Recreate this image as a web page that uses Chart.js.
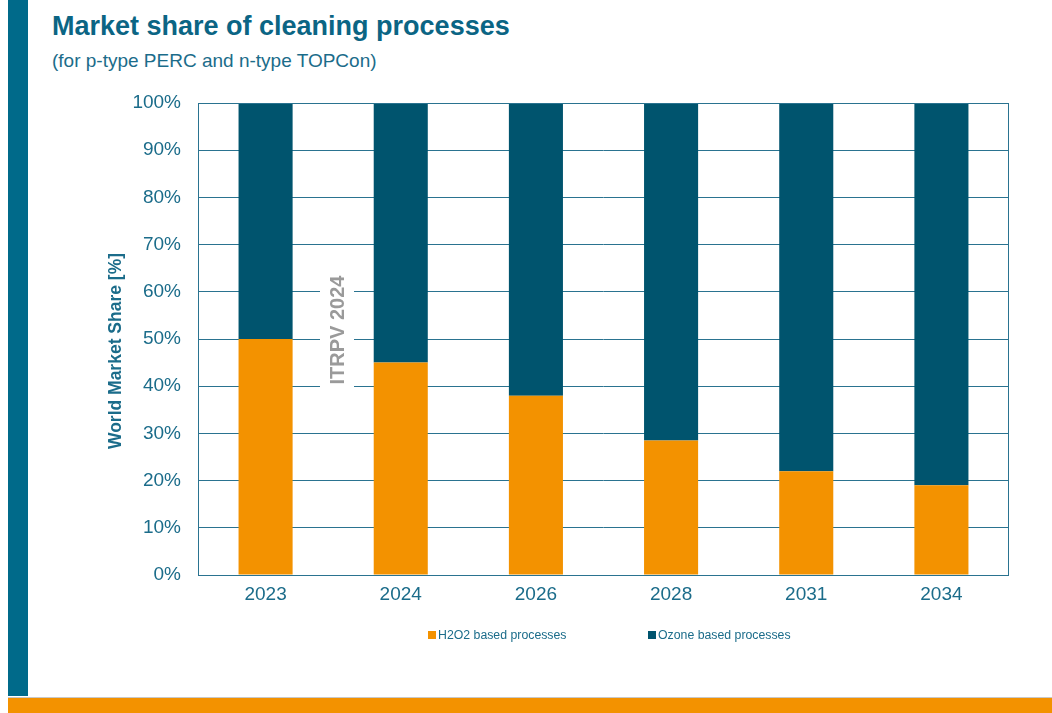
<!DOCTYPE html>
<html>
<head>
<meta charset="utf-8">
<script src="https://cdn.jsdelivr.net/npm/chart.js@4.4.1/dist/chart.umd.min.js"></script>
<style>
  html, body { margin: 0; padding: 0; background: #fff; }
  body { width: 1052px; height: 713px; position: relative; overflow: hidden; font-family: "Liberation Sans", Arial, sans-serif; }
  .side { position: absolute; left: 8px; top: 0; width: 20px; height: 696px; background: #006a8a; }
  .foot { position: absolute; left: 8px; top: 697px; width: 1044px; height: 16px; background: #f39200; border-top: 1px solid #c8c8c8; }
  .title { position: absolute; left: 52px; top: 11px; font-size: 27px; font-weight: bold; color: #0b6584; white-space: nowrap; }
  .sub { position: absolute; left: 52px; top: 50px; font-size: 19px; color: #1b6c8a; white-space: nowrap; }
  #chart { position: absolute; left: 0; top: 0; }
</style>
</head>
<body>
<div class="side"></div>
<div class="foot"></div>
<div class="title">Market share of cleaning processes</div>
<div class="sub">(for p-type PERC and n-type TOPCon)</div>
<canvas id="chart" width="1052" height="713"></canvas>
<script>
const years = ["2023", "2024", "2026", "2028", "2031", "2034"];
const h2o2Share = [50, 45, 38, 28.5, 22, 19];
const ozoneShare = [50, 55, 62, 71.5, 78, 81];
const yTicks = [0, 10, 20, 30, 40, 50, 60, 70, 80, 90, 100];

const teal = "#1b6c8a";
const font = "'Liberation Sans', Arial, sans-serif";

// box around the plot, axis title, watermark and a hand placed legend
const extras = {
  id: "extras",
  afterDatasetsDraw(chart) {
    const ctx = chart.ctx;
    const a = chart.chartArea;
    ctx.save();
    ctx.strokeStyle = "#2a7390";
    ctx.lineWidth = 1;
    ctx.strokeRect(a.left + 0.5, a.top + 0.5, a.right - a.left - 1, a.bottom - a.top);

    // y axis title
    ctx.save();
    ctx.translate(a.left - 82, a.top + 248);
    ctx.rotate(-Math.PI / 2);
    ctx.fillStyle = teal;
    ctx.font = "bold 17.5px " + font;
    ctx.textAlign = "center";
    ctx.textBaseline = "middle";
    ctx.fillText("World Market Share [%]", 0, 0);
    ctx.restore();

    // watermark
    const wx = a.left + 139, wy = a.top + 227;
    ctx.fillStyle = "#fff";
    ctx.fillRect(wx - 17, wy - 62, 34, 124);
    ctx.translate(wx, wy);
    ctx.rotate(-Math.PI / 2);
    ctx.fillStyle = "#9a9a9a";
    ctx.font = "bold 20px " + font;
    ctx.textAlign = "center";
    ctx.textBaseline = "middle";
    ctx.fillText("ITRPV 2024", 0, 1);
    ctx.restore();

    // legend
    ctx.save();
    ctx.font = "12.3px " + font;
    ctx.textBaseline = "middle";
    const ly = a.bottom + 60;
    const lx = [a.left + 230, a.left + 450];
    chart.data.datasets.forEach((ds, i) => {
      ctx.fillStyle = ds.backgroundColor;
      ctx.fillRect(lx[i], ly - 4, 8, 8);
      ctx.fillStyle = teal;
      ctx.fillText(ds.label, lx[i] + 10, ly + 1);
    });
    ctx.restore();
  }
};

new Chart(document.getElementById("chart"), {
  type: "bar",
  data: {
    labels: years,
    datasets: [
      { label: "H2O2 based processes", data: h2o2Share, backgroundColor: "#f39200" },
      { label: "Ozone based processes", data: ozoneShare, backgroundColor: "#00546e" }
    ]
  },
  options: {
    responsive: false,
    animation: false,
    layout: { padding: { left: 101, right: 43, top: 103, bottom: 98 } },
    datasets: { bar: { barPercentage: 0.4, categoryPercentage: 1 } },
    plugins: {
      legend: { display: false },
      tooltip: { enabled: false }
    },
    scales: {
      x: {
        stacked: true,
        grid: { display: false, drawTicks: false },
        border: { display: false },
        ticks: { color: teal, font: { family: font, size: 19 }, padding: 8 },
        afterFit(scale) { scale.height = 40; }
      },
      y: {
        stacked: true,
        min: 0,
        max: 100,
        afterBuildTicks(scale) { scale.ticks = yTicks.map(v => ({ value: v })); },
        grid: { color: "#2a7390", drawTicks: false },
        border: { display: false },
        ticks: {
          color: teal,
          font: { family: font, size: 19 },
          padding: 17,
          callback: v => v + "%"
        },
        afterFit(scale) { scale.width = 97; }
      }
    }
  },
  plugins: [extras]
});
</script>
</body>
</html>
